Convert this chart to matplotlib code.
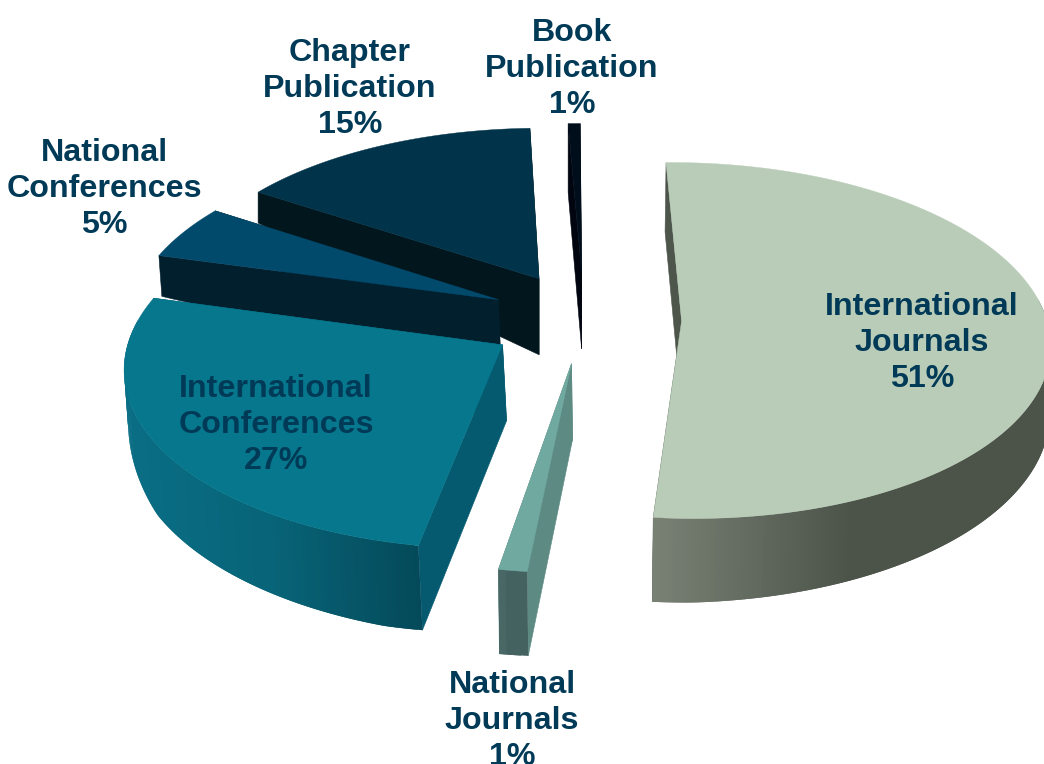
import numpy as np
import matplotlib
matplotlib.use("Agg")
import matplotlib.pyplot as plt
from matplotlib.colors import to_rgb

# ---- data ----
names = ["International\nJournals", "National\nJournals", "International\nConferences",
         "National\nConferences", "Chapter\nPublication", "Book\nPublication"]
label_pct = [51, 1, 27, 5, 15, 1]
# slice shares as they appear in the drawing (%)
shares = [51.85, 1.1, 26.6, 5.0, 15.2, 0.6]

# ---- styling ----
top_cols = ["#b9ccb8", "#70a9a0", "#06778c", "#024a6c", "#01344a", "#000e1c"]
wall_cols = ["#4e564c", "#5d8a83", "#055a70", "#011f2d", "#01161d", "#000510"]
# outer wall colour at its right end, middle and left end
outer_cols = [("#4c544a", "#4c544a", "#7a8276"), ("#446360", "#446360", "#4d6d6a"),
              ("#044a5a", "#086478", "#0a6e85"), ("#011f2d",) * 3, ("#01161d",) * 3, ("#000510",) * 3]
label_xy = [(922, 343), (512, 721), (276, 425), (104, 189), (350, 89), (572, 69)]
draw_order = [5, 4, 3, 0, 2, 1]
explode = [0.27, 0.25, 0.27, 0.27, 0.27, 0.27]
apex_dx = [0, 1, 4, 4, 3, 0]
rim_dx = [0, 0, 0, 0, 0, -3]
wall_lean = [-1, 1, 4, 3, 0, 0]

START = -1.0
CX, CY = 583, 319
RX, RY, PERSP = 365, 175.4, 0.11
APEX_DEPTH = 76
# wall height as a function of pie angle (camera effect)
depth_th = [0, 60, 120, 180, 195, 240, 265, 285, 305, 330, 360]
depth_px = [72, 62, 72, 84, 85, 74, 48, 41, 30, 50, 70]


def project(X, Y):
    w = 1 + PERSP * np.asarray(Y)
    return CX + RX * np.asarray(X) / w, CY - RY * np.asarray(Y) / w


def depth(th):
    return np.interp(np.mod(th, 360), depth_th, depth_px)


fig = plt.figure(figsize=(10.44, 7.64), dpi=100)
ax = fig.add_axes([0, 0, 1, 1])
ax.set_xlim(0, 1044)
ax.set_ylim(764, 0)
ax.axis("off")

edges = START + np.concatenate([[0], np.cumsum(shares)]) * 3.6


def draw_slice(i):
    z = draw_order.index(i) * 10
    a0, a1 = edges[i], edges[i + 1]
    mid = np.radians((a0 + a1) / 2)
    ax0, ay0 = explode[i] * np.sin(mid), explode[i] * np.cos(mid)
    th = np.linspace(a0, a1, max(4, int((a1 - a0) * 1.5)))
    rad = np.radians(th)
    px, py = project(ax0 + np.sin(rad), ay0 + np.cos(rad))
    px = px + rim_dx[i]
    qx, qy = project(ax0, ay0)
    qx = qx + apex_dx[i]
    d = depth(th)
    lean = wall_lean[i]
    # radial walls
    for k in (-1, 0):
        ax.fill([qx, px[k], px[k] + lean, qx + lean], [qy, py[k], py[k] + d[k], qy + APEX_DEPTH],
                color=wall_cols[i], lw=0.4, zorder=10 + z)
    # outer wall: quads overlap their neighbour so no seams show
    c0, cm, c1 = [np.array(to_rgb(c)) for c in outer_cols[i]]
    front = np.cos(rad) <= 0.12
    xr, xl = px[front].max() if front.any() else px.max(), px[front].min() if front.any() else px.min()
    for j in range(len(th) - 1):
        if not (front[j] or front[j + 1]):
            continue
        n = min(j + 2, len(th) - 1)
        t = (xr - px[j]) / max(xr - xl, 1)
        col = c0 + (cm - c0) * t * 2 if t < 0.5 else cm + (c1 - cm) * (t - 0.5) * 2
        ax.fill([px[j], px[n], px[n] + lean, px[j] + lean],
                [py[j], py[n], py[n] + d[n], py[j] + d[j]],
                color=tuple(np.clip(col, 0, 1)), lw=0, zorder=11 + z + j * 1e-3)
    # top face
    ax.fill(np.r_[qx, px], np.r_[qy, py], color=top_cols[i], lw=0.3, zorder=12 + z)


for i in draw_order:
    draw_slice(i)

for name, pct, (x, y) in zip(names, label_pct, label_xy):
    ax.text(x, y, f"{name}\n{pct}%", ha="center", va="center", multialignment="center",
            family="Liberation Sans", weight="bold", fontsize=23.2, color="#003a57",
            linespacing=1.265, zorder=200)

fig.savefig("out.png", dpi=100, facecolor="white")
